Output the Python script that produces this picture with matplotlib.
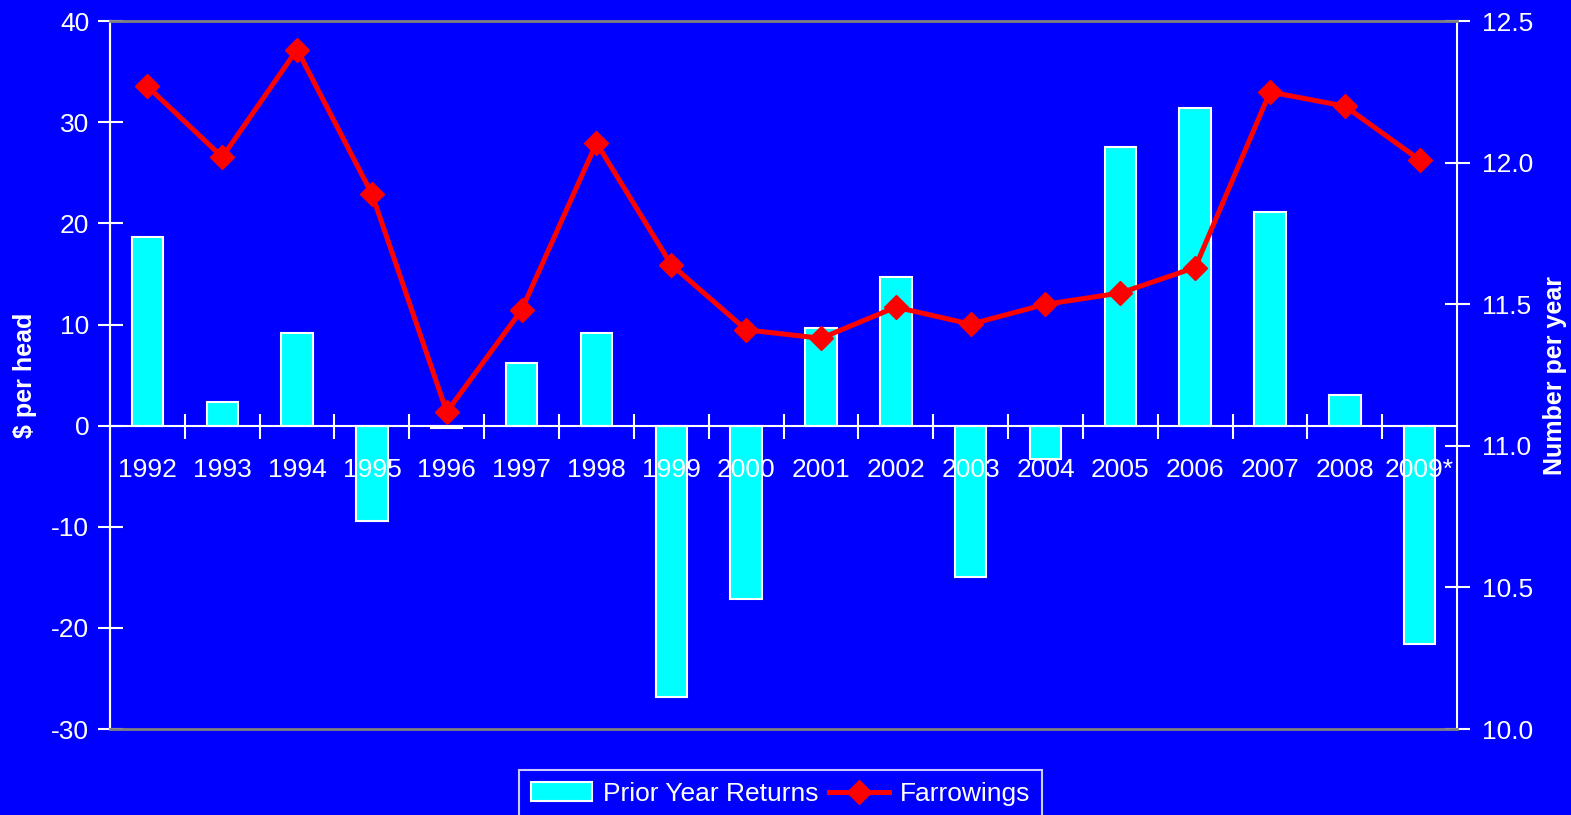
import matplotlib.pyplot as plt
from matplotlib.patches import Patch
from matplotlib.lines import Line2D
import numpy as np

plt.rcParams['font.family'] = ['Liberation Sans', 'DejaVu Sans']
plt.rcParams['axes.unicode_minus'] = False

years = ['1992', '1993', '1994', '1995', '1996', '1997', '1998', '1999', '2000',
         '2001', '2002', '2003', '2004', '2005', '2006', '2007', '2008', '2009*']
returns = [18.7, 2.3, 9.2, -9.4, -0.2, 6.2, 9.2, -26.8, -17.1,
           9.7, 14.7, -15.0, -3.3, 27.6, 31.4, 21.1, 3.0, -21.6]
farrowings = [12.27, 12.02, 12.40, 11.89, 11.12, 11.48, 12.07, 11.64, 11.41,
              11.38, 11.49, 11.43, 11.50, 11.54, 11.63, 12.25, 12.20, 12.01]

BLUE = '#0000FF'
FS = 19
x = np.arange(len(years))

fig = plt.figure(figsize=(15.71, 8.15), dpi=100, facecolor=BLUE)
ax = fig.add_axes([0.0700, 0.1055, 0.8575, 0.8685])
ax.set_facecolor(BLUE)
ax.set_axisbelow(False)

ax.bar(x, returns, width=0.42, color='#00FFFF', edgecolor='white', linewidth=1.5, zorder=2)
ax.set_xlim(-0.5, len(years) - 0.5)
ax.set_ylim(-30, 40)
ax.set_yticks(range(-30, 41, 10))

# x axis sits on the zero line, ticks between categories
ax.spines['bottom'].set_position(('data', 0))
ax.spines['bottom'].set_color('white')
ax.spines['bottom'].set_linewidth(1.5)
ax.spines['bottom'].set_zorder(3)
ax.spines['left'].set_color('white')
ax.spines['left'].set_linewidth(1.5)
ax.spines['top'].set_visible(False)
ax.spines['right'].set_visible(False)
ax.set_xticks(x[:-1] + 0.5)
ax.set_xticklabels([])
ax.set_xticks(x, minor=True)
ax.set_xticklabels(years, minor=True)
ax.tick_params(axis='x', which='major', direction='inout', length=18, width=1.5, color='white')
ax.tick_params(axis='x', which='minor', length=0, pad=23, labelsize=FS, labelcolor='white')
ax.tick_params(axis='y', direction='inout', length=18, width=1.5, color='white',
               labelsize=FS, labelcolor='white', pad=6)
ax.set_ylabel('$ per head', color='white', fontsize=18, fontweight='bold', labelpad=10)

ax2 = ax.twinx()
ax2.set_facecolor('none')
ax2.plot(x, farrowings, color='#FF0000', linewidth=3.6, marker='D', markersize=12.5, zorder=4)
ax2.set_ylim(10.0, 12.5)
ax2.set_yticks(np.arange(10.0, 12.51, 0.5))
ax2.set_yticklabels([f'{v:.1f}' for v in np.arange(10.0, 12.51, 0.5)])
ax2.tick_params(axis='y', direction='inout', length=18, width=1.5, color='white',
                labelsize=FS, labelcolor='white', pad=9)
for s in ['top', 'bottom']:
    ax2.spines[s].set_color('#808080')
    ax2.spines[s].set_linewidth(2)
ax2.spines['left'].set_color('white')
ax2.spines['right'].set_color('white')
ax2.spines['left'].set_linewidth(1.5)
ax2.spines['right'].set_linewidth(1.5)
ax2.set_ylabel('Number per year', color='white', fontsize=18, fontweight='bold', labelpad=7)

handles = [Patch(facecolor='#00FFFF', edgecolor='white', linewidth=1.5),
           Line2D([], [], color='#FF0000', linewidth=3.6, marker='D', markersize=12)]
leg = fig.legend(handles, ['Prior Year Returns', 'Farrowings'], loc='upper center',
                 bbox_to_anchor=(0.497, 0.0552), ncol=2, frameon=True, fancybox=False,
                 facecolor=BLUE, edgecolor='white', fontsize=FS, labelcolor='white',
                 handlelength=2.3, columnspacing=0.4, handletextpad=0.4, borderpad=0.45,
                 borderaxespad=0)
leg.get_frame().set_linewidth(1.5)

fig.savefig('out.png', dpi=100, facecolor=BLUE)
